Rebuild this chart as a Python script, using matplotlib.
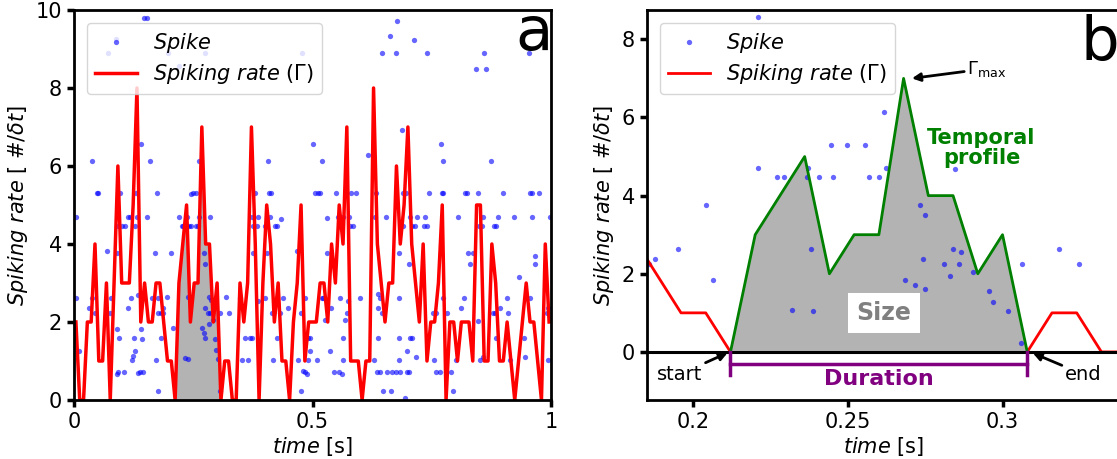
import numpy as np
import matplotlib.pyplot as plt

# spiking rate per time bin (counts per dt), bins of 8 ms over 1 s
dt = 0.008
rate = [2, 0, 0, 2, 2, 4, 1, 1, 3, 0,
        3, 6, 3, 3, 3, 5, 8, 2, 3, 2,
        2, 3, 3, 2, 1, 1, 0, 3, 4, 5,
        2, 3, 3, 7, 4, 4, 2, 3, 0, 1,
        1, 0, 0, 3, 2, 3, 7, 4, 0, 3,
        5, 4, 2, 3, 1, 1, 0, 2, 3, 5,
        1, 2, 2, 2, 3, 3, 2, 4, 3, 5,
        4, 7, 1, 1, 1, 0, 1, 1, 8, 4,
        3, 2, 3, 3, 6, 4, 5, 7, 4, 3,
        2, 4, 1, 2, 2, 3, 5, 0, 2, 2,
        1, 2, 2, 2, 1, 5, 5, 1, 1, 4,
        3, 1, 1, 2, 1, 0, 1, 2, 3, 2,
        2, 1, 0, 4, 2]
# first and last bin of the highlighted avalanche
ev_start, ev_end = 26, 38

# spikes: (time [s], neuron row scaled to rate axis)
spikes = [
    (0.005, 4.70), (0.005, 2.62), (0.011, 1.26), (0.032, 2.37), (0.037, 6.13),
    (0.037, 2.62), (0.044, 2.22), (0.0475, 5.30), (0.051, 5.30), (0.0699, 3.82),
    (0.0713, 8.90), (0.0755, 2.22), (0.077, 2.62), (0.088, 9.26), (0.0894, 3.78),
    (0.0894, 1.83), (0.0894, 0.67), (0.093, 4.47), (0.093, 0.73), (0.095, 1.60),
    (0.0964, 5.30), (0.101, 4.47), (0.1055, 0.73), (0.107, 4.47), (0.114, 4.70),
    (0.114, 2.37), (0.118, 4.70), (0.120, 2.62), (0.121, 1.03), (0.124, 1.13),
    (0.128, 1.26), (0.126, 1.60), (0.128, 4.47), (0.131, 5.30), (0.133, 4.70),
    (0.135, 2.69), (0.135, 0.68), (0.138, 0.73), (0.1398, 1.83), (0.1405, 6.56),
    (0.142, 2.62), (0.143, 1.57), (0.1454, 0.73), (0.1468, 9.79), (0.1524, 9.79),
    (0.152, 4.70), (0.159, 6.13), (0.163, 2.62), (0.170, 3.76), (0.172, 1.03),
    (0.1747, 5.30), (0.1754, 2.22), (0.177, 2.62), (0.177, 0.23), (0.1817, 1.60),
    (0.1824, 2.22),
    (0.1858, 2.24), (0.1876, 2.37), (0.1951, 2.63), (0.197, 8.90), (0.2041, 3.77),
    (0.2065, 1.84), (0.221, 8.56), (0.221, 4.70), (0.227, 4.47), (0.2293, 4.47),
    (0.2319, 1.07), (0.2367, 4.47), (0.237, 4.70), (0.238, 2.63), (0.2386, 1.05),
    (0.2407, 4.47), (0.2444, 5.29), (0.2453, 4.47), (0.2496, 5.30), (0.2555, 5.30),
    (0.2568, 4.47), (0.2601, 4.47), (0.2615, 6.14), (0.2623, 4.70), (0.2685, 1.84),
    (0.2717, 1.71), (0.2733, 3.76), (0.2744, 2.37), (0.2749, 3.50), (0.2749, 1.60),
    (0.275, 8.90), (0.2811, 2.24), (0.283, 1.94), (0.2839, 2.63), (0.2846, 4.68),
    (0.286, 2.24), (0.2865, 2.57), (0.2904, 2.04), (0.2957, 1.57), (0.2968, 1.27),
    (0.3019, 1.05), (0.3059, 0.24), (0.3062, 2.24), (0.3183, 2.63), (0.3247, 2.24),
    (0.348, 2.62), (0.3514, 1.03), (0.3585, 1.60), (0.364, 1.03), (0.369, 1.60),
    (0.3725, 4.70), (0.3725, 1.60), (0.376, 4.47), (0.376, 3.76), (0.3795, 5.30),
    (0.383, 4.47), (0.3864, 4.70), (0.3864, 2.55), (0.400, 4.47), (0.400, 2.62),
    (0.405, 3.76), (0.4074, 6.13), (0.4088, 5.30), (0.4123, 5.30), (0.411, 4.70),
    (0.4143, 2.22), (0.4179, 1.03), (0.421, 4.47), (0.4249, 4.47), (0.4249, 1.60),
    (0.4318, 2.22), (0.435, 4.65), (0.4389, 2.62), (0.4479, 2.37), (0.4668, 3.82),
    (0.4689, 1.03), (0.475, 2.22), (0.475, 0.23), (0.479, 8.89), (0.4808, 0.75),
    (0.484, 0.72), (0.4877, 0.67), (0.4843, 2.62), (0.491, 1.03), (0.4913, 1.60),
    (0.4948, 1.60), (0.4948, 1.26), (0.5017, 6.56), (0.5052, 5.30), (0.5088, 1.03),
    (0.512, 5.30), (0.5157, 5.30), (0.5192, 2.62), (0.5227, 2.62), (0.520, 6.13),
    (0.5262, 2.05), (0.5297, 3.76), (0.5311, 4.66), (0.5367, 1.26), (0.5381, 2.37),
    (0.5458, 0.73), (0.5486, 5.30), (0.5528, 4.70), (0.5563, 0.73), (0.5577, 2.62),
    (0.5612, 0.67), (0.5647, 4.70), (0.5647, 1.60), (0.5647, 1.03), (0.5681, 2.05),
    (0.5716, 2.22), (0.5752, 2.55), (0.5773, 4.70), (0.5787, 4.47), (0.5801, 5.32),
    (0.5842, 4.47), (0.5905, 5.30), (0.5996, 2.62), (0.6157, 6.27), (0.6297, 1.03),
    (0.6311, 4.70), (0.633, 5.30), (0.6366, 2.73), (0.6366, 2.37), (0.6366, 1.60),
    (0.6345, 0.73), (0.6415, 2.62), (0.6415, 0.73), (0.645, 2.22), (0.645, 8.89),
    (0.6485, 0.23), (0.6541, 4.70), (0.6569, 0.73), (0.6625, 9.33), (0.6639, 0.23),
    (0.666, 0.73), (0.675, 8.89), (0.6751, 0.73), (0.6765, 9.73), (0.682, 3.76),
    (0.682, 2.62), (0.682, 1.60), (0.682, 1.03), (0.6835, 0.73), (0.687, 6.92),
    (0.689, 4.47), (0.690, 5.30), (0.697, 5.30), (0.6939, 0.05), (0.6974, 1.26),
    (0.6974, 0.73), (0.703, 3.50), (0.703, 0.73), (0.7045, 4.70), (0.7045, 1.60),
    (0.7079, 4.47), (0.708, 1.60), (0.7128, 9.23), (0.7149, 4.47), (0.717, 1.10),
    (0.7201, 4.70), (0.7219, 2.55), (0.7338, 4.47), (0.7394, 4.47), (0.736, 4.70),
    (0.7407, 8.89), (0.7449, 5.30),
    (0.7533, 2.22), (0.755, 1.03), (0.7589, 2.22), (0.7589, 0.73), (0.7673, 0.73),
    (0.7687, 6.56), (0.7708, 5.30), (0.7743, 5.30), (0.7729, 2.62), (0.774, 6.13),
    (0.7799, 0.73), (0.7813, 2.22), (0.7897, 0.73), (0.7939, 0.23), (0.8008, 1.03),
    (0.8043, 4.70), (0.8113, 2.37), (0.8183, 2.62), (0.8197, 5.30), (0.8232, 5.30),
    (0.8253, 3.76), (0.8302, 3.50), (0.8358, 3.76), (0.843, 8.49), (0.864, 8.49),
    (0.8463, 5.32), (0.8477, 2.03), (0.8498, 4.47), (0.8547, 4.47), (0.8511, 1.03),
    (0.8581, 4.70), (0.8581, 1.10), (0.860, 8.89), (0.8735, 6.13), (0.8791, 2.22),
    (0.8826, 2.22), (0.8805, 4.47), (0.8847, 4.47), (0.8847, 1.60), (0.8882, 4.70),
    (0.893, 2.37), (0.8987, 5.30), (0.9071, 2.62), (0.9106, 2.22), (0.914, 1.03),
    (0.9224, 4.70), (0.9336, 3.16), (0.9441, 1.60), (0.9455, 1.10), (0.953, 8.89),
    (0.956, 5.30), (0.9595, 5.30), (0.956, 2.62), (0.9609, 4.70), (0.9665, 3.50),
    (0.9672, 3.70), (0.9741, 5.32), (0.9923, 2.22), (0.9944, 2.37), (0.9944, 1.03),
    (0.9979, 4.70),
]

rate = np.array(rate, dtype=float)
t = (np.arange(len(rate)) + 0.5) * dt   # bin centres
spike_t, spike_y = np.array(spikes).T
ev = slice(ev_start, ev_end + 1)
pk = ev_start + int(np.argmax(rate[ev]))

W, H = 1117, 459
fig = plt.figure(figsize=(W / 100, H / 100), dpi=100)
axa = fig.add_axes([74 / W, 1 - 400 / H, 477 / W, 390 / H])
axb = fig.add_axes([647 / W, 1 - 400 / H, 473 / W, 390 / H])

lab_spk = r'$Spike$'
lab_rate = r'$Spiking\ rate$ ($\Gamma$)'
spk_kw = dict(ls='none', marker='o', ms=3.8, mew=0, color='blue', alpha=0.6, zorder=2)

# ---- a: whole recording
axa.fill_between(t[ev], rate[ev], color='#b3b3b3', lw=0, zorder=1)
axa.plot(spike_t, spike_y, label=lab_spk, **spk_kw)
axa.plot(t, rate, color='red', lw=2.5, label=lab_rate, zorder=3)
axa.set_xlim(0, 1)
axa.set_ylim(0, 10)
axa.set_xticks([0, 0.5, 1])
axa.set_xticklabels(['0', '0.5', '1'])
axa.set_yticks([0, 2, 4, 6, 8, 10])

# ---- b: zoom on one avalanche
axb.fill_between(t[ev], rate[ev], color='#b3b3b3', lw=0, zorder=1)
axb.plot(spike_t, spike_y, label=lab_spk, **spk_kw)
axb.plot(t[:ev_start + 1], rate[:ev_start + 1], color='red', lw=2, label=lab_rate, zorder=3)
axb.plot(t[ev_end:], rate[ev_end:], color='red', lw=2, zorder=3)
axb.plot(t[ev], rate[ev], color='green', lw=2, zorder=4)
axb.axhline(0, color='k', lw=2.2, zorder=5)
axb.set_xlim(0.185, 0.338)
axb.set_ylim(-1.23, 8.75)
axb.set_xticks([0.2, 0.25, 0.3])
axb.set_xticklabels(['0.2', '0.25', '0.3'])
axb.set_yticks([0, 2, 4, 6, 8])

# duration bracket
t0, t1 = t[ev_start], t[ev_end]
axb.plot([t0, t1], [-0.3, -0.3], color='purple', lw=2.5, zorder=5)
axb.plot([t0, t0], [0, -0.6], color='purple', lw=2.5, zorder=5)
axb.plot([t1, t1], [0, -0.6], color='purple', lw=2.5, zorder=5)
axb.text(0.5 * (t0 + t1), -0.68, 'Duration', color='purple', fontsize=16,
         fontweight='bold', ha='center', va='center')

axb.text(0.2617, 1.0, 'Size', color='gray', fontsize=17, fontweight='bold',
         ha='center', va='center', zorder=6,
         bbox=dict(facecolor='white', edgecolor='none', pad=6))
axb.text(0.2932, 5.22, 'Temporal\nprofile', color='green', fontsize=15,
         fontweight='bold', ha='center', va='center', linespacing=0.95)

arr = dict(arrowstyle='-|>', color='k', lw=2, mutation_scale=12, shrinkA=0, shrinkB=0)
axb.annotate(r'$\Gamma_{\rm max}$', xy=(t[pk] + 0.0027, rate[pk]), xytext=(0.2885, 7.25),
             fontsize=13, ha='left', va='center', arrowprops=arr)
axb.annotate('start', xy=(t0 - 0.0009, -0.02), xytext=(0.1957, -0.57),
             fontsize=14, ha='center', va='center', arrowprops=arr)
axb.annotate('end', xy=(t1 + 0.0018, -0.03), xytext=(0.326, -0.57),
             fontsize=14, ha='center', va='center', arrowprops=arr)

for ax in (axa, axb):
    ax.set_xlabel(r'$time$ [s]', fontsize=15, labelpad=2)
    ax.set_ylabel(r'$Spiking\ rate$ [ #/$\delta t$]', fontsize=15)
    ax.tick_params(labelsize=15, width=2.5, length=5)
    for s in ax.spines.values():
        s.set_linewidth(2)
        s.set_zorder(6)
    ax.legend(loc='upper left', fontsize=15, borderaxespad=0.6, labelspacing=0.35)

fig.text(515 / W, 1 - 50 / H, 'a', fontsize=44, ha='left', va='baseline')
fig.text(1080 / W, 1 - 60 / H, 'b', fontsize=44, ha='left', va='baseline')

fig.savefig('out.png', dpi=100)
